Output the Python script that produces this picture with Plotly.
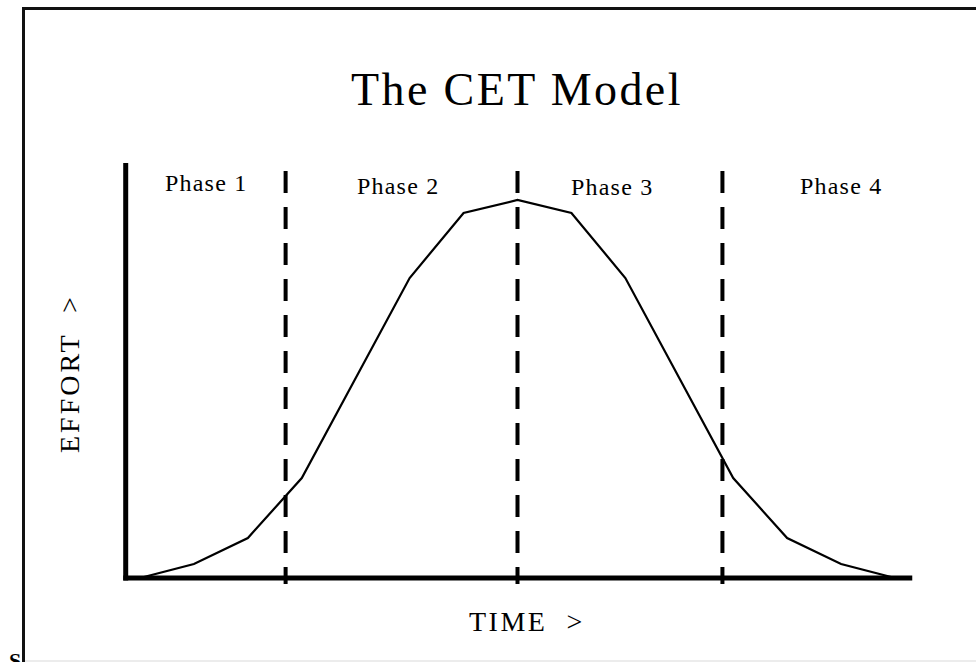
import plotly.graph_objects as go

W, H = 976, 662

# ---- data ----
time_idx = [0, 1, 2, 3, 5, 6, 7, 8, 9, 11, 12, 13, 14]
effort = [0, 14, 40, 100, 300, 365, 378, 365, 300, 100, 40, 14, 0]
phase_bounds = [2.7, 7.0, 10.8]
phase_labels = ["Phase 1", "Phase 2", "Phase 3", "Phase 4"]
title_text = "The CET Model"
x_label = "TIME  >"
y_label = "EFFORT  >"

SERIF = "Liberation Serif, Times New Roman, serif"


def px(x):
    return x / W


def py(y):
    return 1 - y / H


def spaced(t, s):
    return f'<span style="letter-spacing:{s}px">{t}</span>'


fig = go.Figure()

fig.add_trace(go.Scatter(
    x=time_idx, y=effort, mode="lines",
    line=dict(color="black", width=2.2),
    hoverinfo="skip", showlegend=False,
))

shapes = []
# phase boundaries (dashed)
for b in phase_bounds:
    shapes.append(dict(type="line", xref="x", yref="y", x0=b, x1=b, y0=407, y1=-6,
                       line=dict(color="black", width=4, dash="22px,14px")))
# axes
shapes.append(dict(type="line", xref="x", yref="y", x0=-0.265, x1=-0.265, y0=-2.5, y1=415,
                   line=dict(color="black", width=5)))
shapes.append(dict(type="line", xref="x", yref="y", x0=-0.31, x1=14.32, y0=0, y1=0,
                   line=dict(color="black", width=5)))
# page frame
shapes.append(dict(type="line", xref="paper", yref="paper", x0=px(23.5), x1=px(23.5), y0=py(7), y1=0,
                   line=dict(color="#111", width=3)))
shapes.append(dict(type="line", xref="paper", yref="paper", x0=px(22), x1=1, y0=py(8.5), y1=py(8.5),
                   line=dict(color="#111", width=3)))
shapes.append(dict(type="line", xref="paper", yref="paper", x0=px(25), x1=1, y0=py(661), y1=py(661),
                   line=dict(color="#e6e6e6", width=1.5)))

annotations = []
annotations.append(dict(text=spaced(title_text, 2.4), x=px(517), y=py(90), xref="paper", yref="paper",
                        showarrow=False, xanchor="center", yanchor="middle",
                        font=dict(family=SERIF, size=46, color="black")))
phase_cx = [205.7, 397.5, 611.7, 840.8]
phase_cy = [183, 186, 186.5, 186]
for lab, cx, cy in zip(phase_labels, phase_cx, phase_cy):
    annotations.append(dict(text=spaced(lab, 1.2), x=px(cx), y=py(cy), xref="paper", yref="paper",
                            showarrow=False, xanchor="center", yanchor="middle",
                            font=dict(family=SERIF, size=24, color="black")))
annotations.append(dict(text=spaced(y_label, 3), x=px(69), y=py(374), xref="paper", yref="paper",
                        showarrow=False, xanchor="center", yanchor="middle", textangle=-90,
                        font=dict(family=SERIF, size=28, color="black")))
annotations.append(dict(text=spaced(x_label, 2.5), x=px(527), y=py(621), xref="paper", yref="paper",
                        showarrow=False, xanchor="center", yanchor="middle",
                        font=dict(family=SERIF, size=28, color="black")))
annotations.append(dict(text="<b>S</b>", x=px(15), y=py(646), xref="paper", yref="paper",
                        showarrow=False, xanchor="center", yanchor="top",
                        font=dict(family=SERIF, size=22, color="black")))

fig.update_layout(
    width=W, height=H, autosize=False,
    margin=dict(l=0, r=0, t=0, b=0, pad=0),
    paper_bgcolor="white", plot_bgcolor="white",
    xaxis=dict(range=[-2.596, 15.502], visible=False, fixedrange=True),
    yaxis=dict(range=[-84, 578], visible=False, fixedrange=True),
    shapes=shapes, annotations=annotations, showlegend=False,
)

fig.write_html("out.html", config={"displayModeBar": False},
               post_script="document.body.style.margin='0';document.body.style.overflow='hidden';")
